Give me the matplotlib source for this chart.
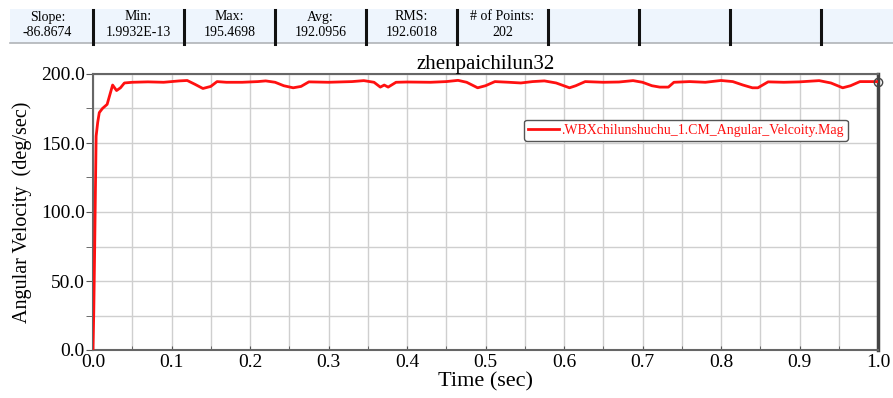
import matplotlib.pyplot as plt
from matplotlib.patches import Rectangle
from matplotlib.ticker import MultipleLocator, FormatStrFormatter

# header statistics
stat_names = ["Slope:", "Min:", "Max:", "Avg:", "RMS:", "# of Points:", "", "", "", ""]
stat_values = ["-86.8674", "1.9932E-13", "195.4698", "192.0956", "192.6018", "202", "", "", "", ""]

# angular velocity trace
time_s = [0.0, 0.001, 0.002, 0.003, 0.004, 0.006, 0.008, 0.012, 0.018, 0.022, 0.025,
          0.030, 0.035, 0.040, 0.050, 0.070, 0.090, 0.110, 0.120, 0.130, 0.140,
          0.150, 0.158, 0.170, 0.190, 0.210, 0.220, 0.232, 0.243, 0.255, 0.265,
          0.275, 0.300, 0.330, 0.345, 0.358, 0.366, 0.371, 0.376, 0.386, 0.400,
          0.430, 0.450, 0.465, 0.476, 0.490, 0.500, 0.512, 0.530, 0.545, 0.560,
          0.575, 0.590, 0.607, 0.615, 0.627, 0.650, 0.670, 0.688, 0.700, 0.712,
          0.722, 0.733, 0.740, 0.760, 0.780, 0.800, 0.815, 0.828, 0.840, 0.847,
          0.860, 0.880, 0.900, 0.925, 0.940, 0.955, 0.965, 0.977, 1.000]
velocity = [0.0, 28.0, 68.0, 112.0, 155.0, 165.0, 172.0, 175.0, 178.0, 186.0, 192.0,
            188.0, 190.0, 193.5, 194.0, 194.3, 194.0, 195.0, 195.3, 192.5, 189.5,
            191.0, 194.5, 194.0, 194.0, 194.5, 195.0, 194.0, 191.5, 190.0, 191.0,
            194.3, 194.0, 194.5, 195.2, 194.0, 190.5, 192.0, 190.5, 194.0, 194.2,
            194.0, 194.5, 195.4, 194.0, 190.0, 191.5, 194.5, 194.0, 193.5, 194.5,
            195.0, 193.5, 190.0, 191.5, 194.5, 194.0, 194.2, 195.2, 194.0, 191.5,
            190.5, 190.5, 194.0, 194.5, 194.0, 195.3, 194.5, 192.0, 190.0, 190.0,
            194.3, 194.0, 194.3, 195.2, 193.5, 190.0, 191.5, 194.5, 194.5]

plt.rcParams['font.family'] = ['Liberation Serif', 'DejaVu Serif']

fig = plt.figure(figsize=(8.93, 3.98), dpi=100)

# statistics strip along the top
W, H = 893.0, 398.0
fig.patches.append(Rectangle((10 / W, 1 - 43 / H), 883 / W, 34 / H, transform=fig.transFigure,
                             facecolor='#eef5fd', edgecolor='none', zorder=0))
fig.add_artist(plt.Line2D([10 / W, 1.0], [1 - 43 / H, 1 - 43 / H], transform=fig.transFigure,
                          color='#b0b4b8', lw=1.2))
cell_w = 91.0
for i, (name, val) in enumerate(zip(stat_names, stat_values)):
    cx = (2 + cell_w * i + cell_w / 2) / W
    fig.text(cx, 1 - 17 / H, name, ha='center', va='center', fontsize=10)
    fig.text(cx, 1 - 33 / H, val, ha='center', va='center', fontsize=10)
    sx = (2 + cell_w * (i + 1)) / W
    if sx < 1.0:
        fig.add_artist(plt.Line2D([sx, sx], [1 - 44 / H, 1 - 10 / H], transform=fig.transFigure,
                                  color='#111111', lw=2.2))

ax = fig.add_axes([93 / W, 1 - 350 / H, 785 / W, 276 / H])
ax.plot(time_s, velocity, color='#ff1010', lw=2.0,
        label='.WBXchilunshuchu_1.CM_Angular_Velcoity.Mag', zorder=3)
ax.plot([time_s[-1]], [velocity[-1]], marker='o', ms=6, mfc='none', mec='#444444',
        mew=1.0, clip_on=False, zorder=4)

ax.set_xlim(0, 1.0)
ax.set_ylim(0, 200)
ax.xaxis.set_major_locator(MultipleLocator(0.1))
ax.xaxis.set_minor_locator(MultipleLocator(0.05))
ax.yaxis.set_major_locator(MultipleLocator(50))
ax.yaxis.set_minor_locator(MultipleLocator(25))
ax.xaxis.set_major_formatter(FormatStrFormatter('%.1f'))
ax.yaxis.set_major_formatter(FormatStrFormatter('%.1f'))
ax.grid(which='both', color='#cfcfcf', lw=1.0)
ax.set_axisbelow(True)

ax.tick_params(axis='x', which='both', direction='in', length=3, color='#555555',
               labelsize=14, pad=3)
ax.tick_params(axis='y', which='both', direction='out', length=5, color='#555555',
               labelsize=14, pad=1)

for side in ['left', 'bottom', 'top']:
    ax.spines[side].set_color('#666666')
    ax.spines[side].set_linewidth(1.5)
ax.spines['right'].set_color('#444444')
ax.spines['right'].set_linewidth(2.5)

ax.set_title('zhenpaichilun32', fontsize=15, pad=2)
ax.set_xlabel('Time (sec)', fontsize=16, labelpad=1)
ax.set_ylabel('Angular Velocity  (deg/sec)', fontsize=14.5, labelpad=6)

leg = ax.legend(loc='upper left', bbox_to_anchor=(0.54, 0.86), fontsize=10,
                handlelength=2.2, handletextpad=0.2, borderpad=0.3,
                fancybox=True, framealpha=1.0, edgecolor='#555555')
leg.get_frame().set_linewidth(1.0)
for txt in leg.get_texts():
    txt.set_color('#ff1010')

fig.savefig('out.png', dpi=100)
